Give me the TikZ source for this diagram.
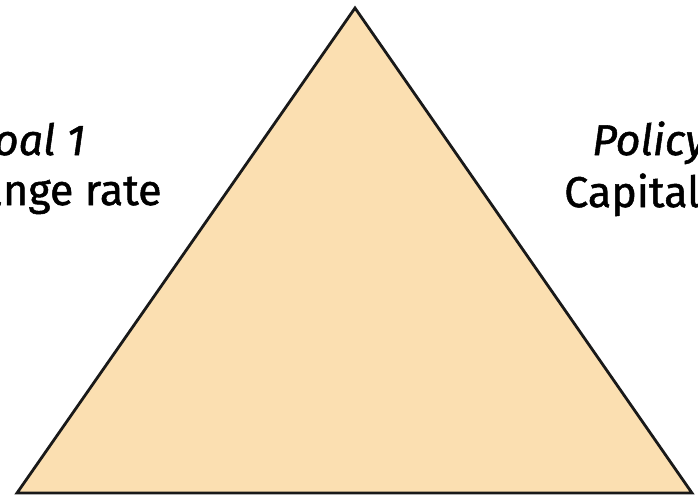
\documentclass[tikz,border=0pt]{standalone}
\usepackage{fontspec}
\setmainfont{Fira Sans}[FakeBold=1.2]
\usepackage{tikz}
\usetikzlibrary{positioning}

\definecolor{peach}{RGB}{251,223,177}

\begin{document}
\begin{tikzpicture}[
    x=1pt, y=-1pt,
    goal/.style={inner sep=0pt, font=\fontsize{43}{50}\selectfont},
    side/.style={draw=black!90, line width=2.8pt, line join=miter, fill=peach}
]
\useasboundingbox (0,0) rectangle (698,499);
\clip (0,0) rectangle (698,499);
\coordinate (top) at (355,8);
\coordinate (bl) at (17,493);
\coordinate (br) at (692,493);
\draw[side] (top) -- (br) -- (bl) -- cycle;

\node[goal, anchor=base] (g1) at (26,155) {\itshape Goal 1};
\node[goal, anchor=base] (ex) at (26,205) {Exchange rate};
\node[goal, anchor=base west] (pol) at (592,155) {\itshape Policy};
\node[goal, anchor=base west] (cap) at (564,207) {Capital};
\end{tikzpicture}
\end{document}
